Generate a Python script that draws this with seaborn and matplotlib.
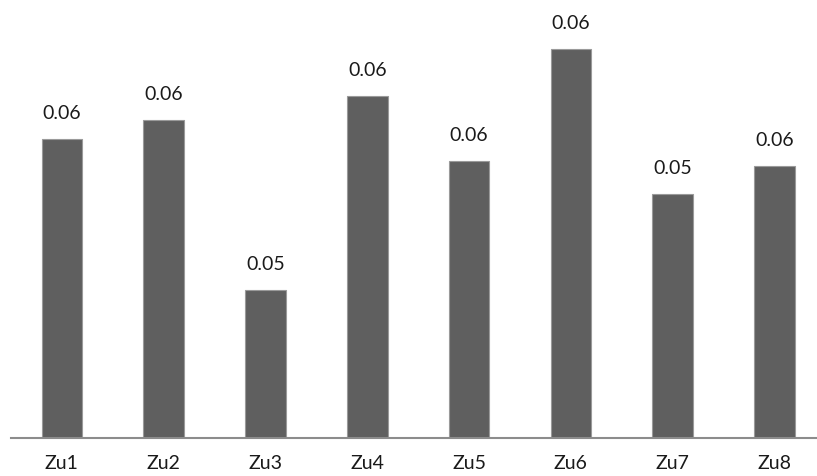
import matplotlib
matplotlib.use("Agg")
import matplotlib.pyplot as plt
import seaborn as sns
import pandas as pd

categories = ["Zu1", "Zu2", "Zu3", "Zu4", "Zu5", "Zu6", "Zu7", "Zu8"]
values = [0.0574, 0.0585, 0.0486, 0.0599, 0.0561, 0.0626, 0.0542, 0.0558]

df = pd.DataFrame({"group": categories, "value": values})

sns.set_theme(style="white")
plt.rcParams["font.family"] = ["Lato", "DejaVu Sans"]

W, H = 817, 476
fig = plt.figure(figsize=(W / 100, H / 100), dpi=100)
# axes spans from the left margin to the right edge; baseline near the bottom
left_px, base_px = 11, 438
ax = fig.add_axes([left_px / W, (H - base_px) / H, (W - left_px) / W, base_px / H])

sns.barplot(data=df, x="group", y="value", ax=ax, color="#5f5f5f",
            saturation=1, width=0.4, edgecolor="#9a9a9a", linewidth=0.8)

ax.set_ylim(0.04, 0.06545)
step = 101.8
ax.set_xlim(-0.5, -0.5 + (W - left_px) / step)

for i, v in enumerate(values):
    ax.annotate(f"{v:.2f}", xy=(i, v), xytext=(0, 12), textcoords="offset points",
                ha="center", va="bottom", fontsize=14, color="#1a1a1a")

for s in ["top", "right", "left"]:
    ax.spines[s].set_visible(False)
ax.spines["bottom"].set_color("#8c8c8c")
ax.spines["bottom"].set_linewidth(1.5)
ax.set_yticks([])
ax.tick_params(axis="x", length=0, pad=12, labelsize=14, labelcolor="#1a1a1a")
ax.set_xlabel("")
ax.set_ylabel("")

fig.savefig("out.png", dpi=100)
